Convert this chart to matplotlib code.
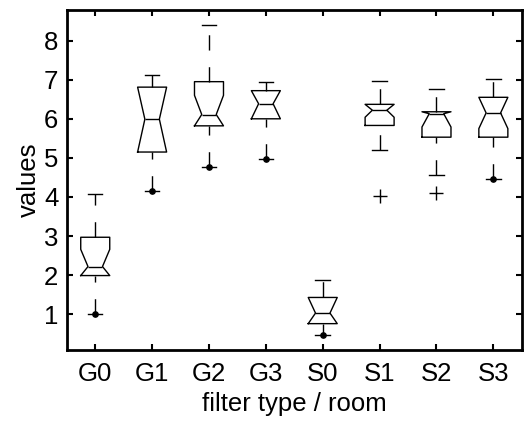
import matplotlib
matplotlib.use('Agg')
import matplotlib.pyplot as plt

# box statistics
labels = ['G0', 'G1', 'G2', 'G3', 'S0', 'S1', 'S2', 'S3']
q1 = [1.99, 5.15, 5.82, 6.00, 0.76, 5.83, 5.53, 5.53]
med = [2.22, 5.99, 6.11, 6.385, 1.03, 6.22, 6.13, 6.15]
q3 = [2.97, 6.81, 6.95, 6.72, 1.43, 6.37, 6.18, 6.55]
notch_lo = [1.99, 5.15, 5.82, 6.00, 0.76, 6.04, 5.79, 5.75]
notch_hi = [2.66, 6.81, 6.60, 6.72, 1.43, 6.37, 6.18, 6.55]
whisker_lo = [1.01, 4.15, 4.77, 4.96, 0.48, 5.19, 4.57, 4.47]
whisker_hi = [4.07, 7.11, 8.40, 6.95, 1.88, 6.96, 6.75, 7.03]
outliers = [[], [], [], [], [], [4.03], [4.09], []]
# dots sitting on the lower whisker ends
dot_values = [1.01, 4.15, 4.77, 4.96, 0.48, None, None, 4.47]

plt.rcParams['font.family'] = ['Liberation Sans', 'DejaVu Sans']
plt.rcParams['lines.scale_dashes'] = False


def main():
  fig = plt.figure(figsize=(5.26, 4.22), dpi=100)
  ax = fig.add_axes([0.127, 0.171, 0.865, 0.805])

  stats = []
  for i in range(len(labels)):
    stats.append({
      'label': labels[i], 'q1': q1[i], 'med': med[i], 'q3': q3[i],
      'cilo': notch_lo[i], 'cihi': notch_hi[i],
      'whislo': whisker_lo[i], 'whishi': whisker_hi[i],
      'fliers': outliers[i],
    })

  line = dict(color='black', linewidth=1.0)
  bp = ax.bxp(stats, positions=range(1, len(labels) + 1), widths=0.51,
              shownotches=True,
              boxprops=line, medianprops=line, capprops=line,
              whiskerprops=dict(color='black', linewidth=1.0, linestyle=(0, (11, 12))),
              flierprops=dict(marker='+', markersize=10, markeredgecolor='black',
                              markeredgewidth=1.0))

  # lower whiskers are drawn from the end up to the box
  for i, w in enumerate(bp['whiskers']):
    if i % 2 == 0:
      w.set_ydata(w.get_ydata()[::-1])

  xs = [i + 1 for i, v in enumerate(dot_values) if v is not None]
  ys = [v for v in dot_values if v is not None]
  ax.plot(xs, ys, linestyle='none', marker='o', markersize=3.8, color='black')

  ax.set_xlim(0.5, 8.5)
  ax.set_ylim(0.09, 8.78)
  ax.set_yticks(range(1, 9))
  ax.set_xticklabels(labels)
  ax.tick_params(direction='in', top=True, right=True, length=4, width=1.5,
                 labelsize=18.5)
  ax.tick_params(axis='x', pad=9)
  ax.tick_params(axis='y', pad=6)
  for s in ax.spines.values():
    s.set_linewidth(2)
  ax.set_xlabel('filter type / room', fontsize=18.5, labelpad=4)
  ax.set_ylabel('values', fontsize=18.5, labelpad=2)

  fig.savefig('out.png', dpi=100)


main()
